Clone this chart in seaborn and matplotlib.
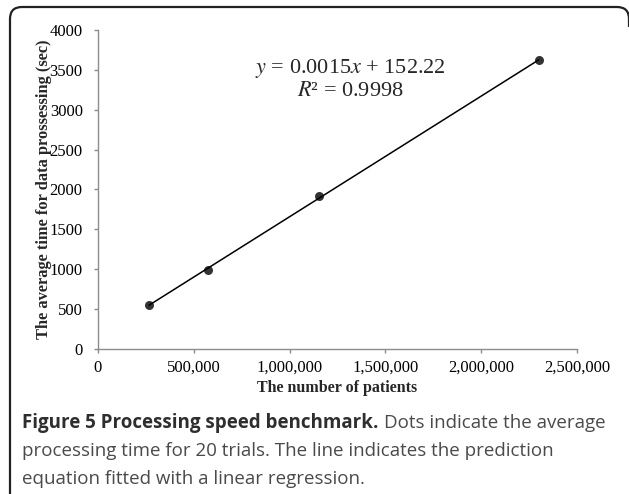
import numpy as np
import pandas as pd
import matplotlib
matplotlib.use("Agg")
import matplotlib.pyplot as plt
import seaborn as sns
from matplotlib.patches import PathPatch
from matplotlib.path import Path
from matplotlib.transforms import IdentityTransform
from matplotlib.ticker import FuncFormatter, MultipleLocator

# dati
pazienti = [266000, 573000, 1153000, 2300000]
tempo_medio = [553, 992, 1913, 3618]
equazione = "$y$ = 0.0015$x$ + 152.22"
r_quadro = "$R$² = 0.9998"

sns.set_style("white")
plt.rcParams["font.family"] = ["Liberation Serif", "DejaVu Serif"]
plt.rcParams["mathtext.fontset"] = "stix"

df = pd.DataFrame({"pazienti": pazienti, "tempo": tempo_medio})

fig = plt.figure(figsize=(6.29, 4.94), dpi=100)
ax = fig.add_axes([98 / 629, 1 - 349 / 494, 479 / 629, 319 / 494])

sns.regplot(data=df, x="pazienti", y="tempo", ax=ax, ci=None, color="black",
            scatter_kws={"s": 42, "linewidths": 0, "zorder": 3},
            line_kws={"lw": 1.1})

ax.set_xlim(0, 2500000)
ax.set_ylim(0, 4000)
ax.xaxis.set_major_locator(MultipleLocator(500000))
ax.yaxis.set_major_locator(MultipleLocator(500))
ax.xaxis.set_major_formatter(FuncFormatter(lambda v, p: f"{int(v):,}"))

grigio = "#8c8c8c"
for lato in ["top", "right"]:
    ax.spines[lato].set_visible(False)
for lato in ["left", "bottom"]:
    ax.spines[lato].set_color(grigio)
    ax.spines[lato].set_linewidth(1)
ax.tick_params(axis="both", direction="out", length=3, width=1, color=grigio,
               labelsize=12, labelcolor="black")
ax.tick_params(axis="x", pad=5, bottom=True)
ax.tick_params(axis="y", pad=8, left=True)

ax.set_xlabel("The number of patients", fontsize=11.5, fontweight="bold")
ax.set_ylabel("The average time for data prossessing (sec)", fontsize=11.8,
              fontweight="bold")
ax.xaxis.set_label_coords(0.5, -0.098)
ax.yaxis.set_label_coords(-0.096, 0.5)

fig.text(350 / 629, 1 - 68 / 494, equazione, fontsize=16, ha="center", va="center")
fig.text(350 / 629, 1 - 91 / 494, r_quadro, fontsize=16, ha="center", va="center")

# cornice arrotondata: solo lato sinistro, lato alto e angolo destro
alto = 494 - 7
verts = [(10, -5), (10, alto - 12), (10, alto), (22, alto),
         (617, alto), (629, alto), (629, alto - 12), (629, alto - 20)]
codes = [Path.MOVETO, Path.LINETO, Path.CURVE3, Path.CURVE3,
         Path.LINETO, Path.CURVE3, Path.CURVE3, Path.LINETO]
cornice = PathPatch(Path(verts, codes), transform=IdentityTransform(), fill=False,
                    edgecolor="#222222", linewidth=1.6, clip_on=False)
fig.patches.append(cornice)

# didascalia
col_did = "#4a4a4a"
fam = ["Open Sans", "DejaVu Sans"]
dim = 13.5
y1 = 1 - 428 / 494
t_bold = fig.text(22 / 629, y1, "Figure 5 Processing speed benchmark.", fontsize=dim,
                  fontweight="bold", family=fam, color="#2e2e2e", va="baseline")
renderer = fig.canvas.get_renderer()
bb = t_bold.get_window_extent(renderer)
fig.text((bb.x1 + 5) / 629, y1, "Dots indicate the average", fontsize=dim,
         family=fam, color=col_did, va="baseline")
fig.text(22 / 629, 1 - 456 / 494,
         "processing time for 20 trials. The line indicates the prediction",
         fontsize=dim, family=fam, color=col_did, va="baseline")
fig.text(22 / 629, 1 - 484 / 494, "equation fitted with a linear regression.",
         fontsize=dim, family=fam, color=col_did, va="baseline")

fig.savefig("out.png", dpi=100)
